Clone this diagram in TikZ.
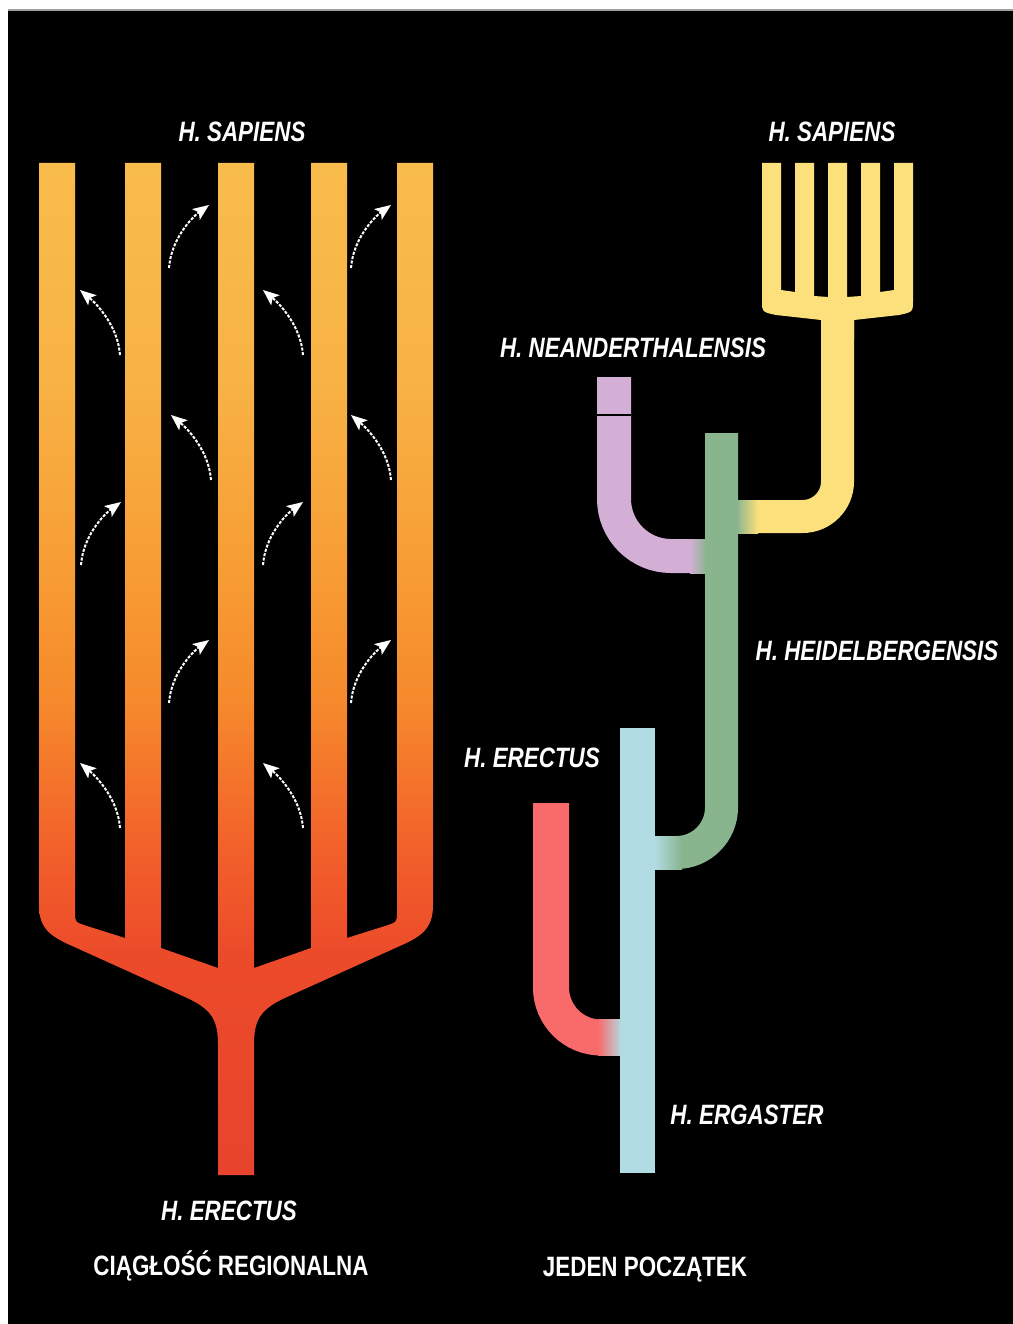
\documentclass[tikz,border=0pt]{standalone}
\usepackage{fontspec}
\newfontfamily\labfont[FakeStretch=0.8]{Liberation Sans}
\usetikzlibrary{arrows.meta}
\definecolor{tr0}{HTML}{E8432C}
\definecolor{tr1}{HTML}{EC4B2A}
\definecolor{tr2}{HTML}{F2602A}
\definecolor{tr3}{HTML}{F68A2C}
\definecolor{tr4}{HTML}{F79E34}
\definecolor{tr5}{HTML}{F8B246}
\definecolor{tr6}{HTML}{F8BC4C}
\definecolor{sapc}{HTML}{FCE07C}
\definecolor{neand}{HTML}{D3AFD6}
\definecolor{heid}{HTML}{88B48E}
\definecolor{ergc}{HTML}{B2DCE4}
\definecolor{erec}{HTML}{F96B6B}
\pgfdeclareverticalshading{lefttree}{100bp}{color(0bp)=(tr0); color(25bp)=(tr0); color(36bp)=(tr1); color(41bp)=(tr2); color(48.5bp)=(tr3); color(55.4bp)=(tr4); color(64.3bp)=(tr5); color(75bp)=(tr6); color(100bp)=(tr6)}
\begin{document}
\begin{tikzpicture}[x=1pt,y=-1pt,
  lbl/.style={text=white,anchor=base,inner sep=0pt,font=\labfont\bfseries\itshape\fontsize{28}{30}\selectfont},
  ttl/.style={text=white,anchor=base,inner sep=0pt,font=\labfont\bfseries\fontsize{28}{30}\selectfont},
  migr/.style={draw=white,line width=2pt,dash pattern=on 3pt off 1.5pt,-{Stealth[length=16pt,width=13pt,inset=3.5pt]}}]
\useasboundingbox (0,0) rectangle (1012,1324);
% background
\fill[white] (0,0) rectangle (1012,1324);
\fill[black] (8,11) rectangle (1030,1340);
\draw[gray!75,line width=2.5pt] (8,10) -- (1030,10);
% left tree: regional continuity
\shade[shading=lefttree] (39,163) -- (75,163) -- (75,913) .. controls (75,922) .. (87,926) -- (125,938) -- (125,163) -- (161,163) -- (161,948) -- (218,968) -- (218,163) -- (254,163) -- (254,968) -- (311,948) -- (311,163) -- (347,163) -- (347,938) -- (385,926) .. controls (397,922) .. (397,913) -- (397,163) -- (433,163) -- (433,905) .. controls (433,928) and (422,936) .. (402,945) -- (287,997) .. controls (260,1009) and (254,1020) .. (254,1045) -- (254,1175) -- (218,1175) -- (218,1045) .. controls (218,1020) and (212,1009) .. (185,997) -- (70,945) .. controls (50,936) and (39,928) .. (39,905) -- cycle;
% migration arrows
\foreach \x/\y in {120/355,303/355,211/480,391/480,120/828,303/828}
  \draw[migr] (\x,\y) .. controls (\x-2,\y-28) and (\x-22,\y-50) .. (\x-40,\y-65);
\foreach \x/\y in {169/268,351/268,81/565,263/565,169/703,351/703}
  \draw[migr] (\x,\y) .. controls (\x+2,\y-28) and (\x+22,\y-50) .. (\x+40,\y-63);
% right tree: single origin
\draw[neand,line width=34pt,rounded corners=57pt] (614,377) -- (614,556) -- (700,556);
\shade[left color=neand,right color=heid] (690,539) rectangle (707,573);
\draw[black,line width=2pt] (597,415) -- (631,415);
\fill[sapc] (762,163) -- (781,163) -- (781,290) -- (795,292) -- (795,163) -- (814,163) -- (814,296) -- (828,297) -- (828,163) -- (847,163) -- (847,297) -- (861,296) -- (861,163) -- (880,163) -- (880,292) -- (894,290) -- (894,163) -- (913,163) -- (913,300) .. controls (913,312) .. (899,315) -- (854,320) -- (854,340) -- (821,340) -- (821,320) -- (776,315) .. controls (762,312) .. (762,300) -- cycle;
\draw[sapc,line width=33pt,rounded corners=35pt] (837.5,315) -- (837.5,516.5) -- (745,516.5);
\shade[left color=heid,right color=sapc] (736,500) rectangle (758,533);
\draw[heid,line width=33pt,rounded corners=45pt] (721.5,433) -- (721.5,852.5) -- (660,852.5);
\shade[left color=ergc,right color=heid] (654,836) rectangle (682,869);
\draw[erec,line width=36pt,rounded corners=50pt] (551,803) -- (551,1037.5) -- (615,1037.5);
\shade[left color=erec,right color=ergc] (598,1019.5) rectangle (622,1055.5);
\fill[ergc] (620,728) rectangle (655,1173);
% labels
\node[lbl] (lsap) at (242,142) {H. SAPIENS};
\node[lbl] (lere) at (229,1220) {H. ERECTUS};
\node[ttl] (lcia) at (231,1275) {CIĄGŁOŚĆ REGIONALNA};
\node[lbl] (rsap) at (832,142) {H. SAPIENS};
\node[lbl] (rnea) at (633,357) {H. NEANDERTHALENSIS};
\node[lbl] (rhei) at (877,660) {H. HEIDELBERGENSIS};
\node[lbl] (rere) at (532,767) {H. ERECTUS};
\node[lbl] (rerg) at (747,1124) {H. ERGASTER};
\node[ttl] (rjed) at (645,1276) {JEDEN POCZĄTEK};
\end{tikzpicture}
\end{document}
